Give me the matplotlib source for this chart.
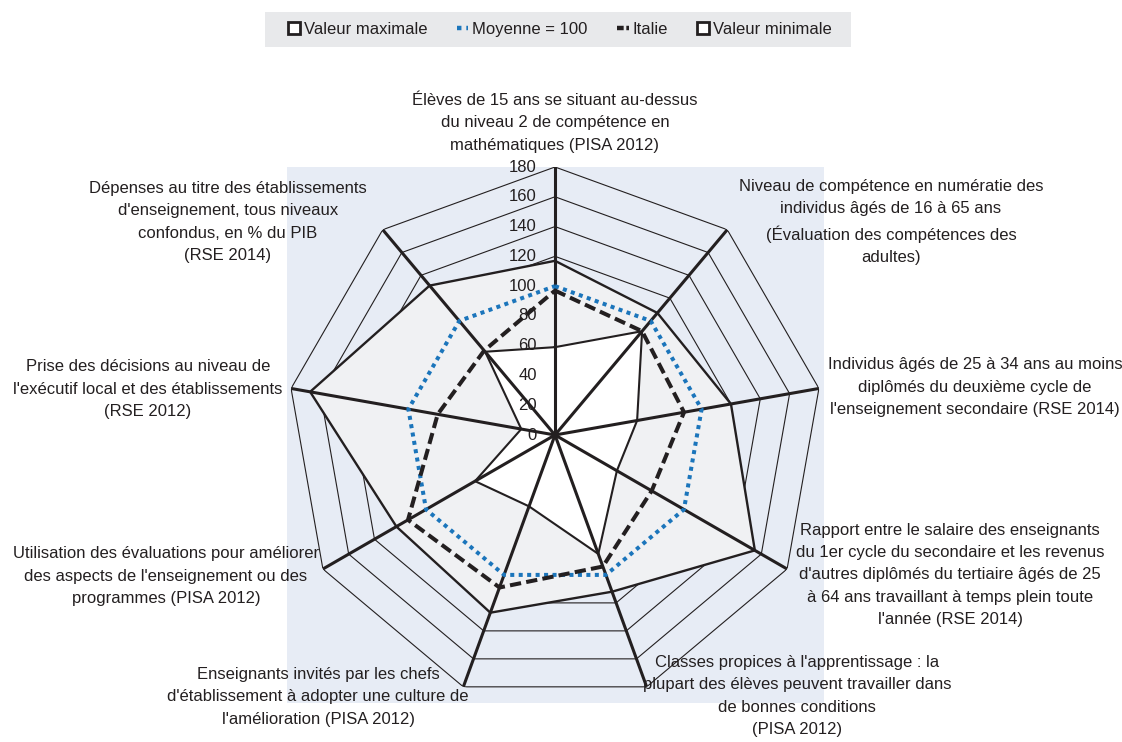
import numpy as np
import matplotlib
matplotlib.use("Agg")
import matplotlib.pyplot as plt
from matplotlib.patches import Patch, Rectangle
from matplotlib.lines import Line2D

plt.rcParams['font.family'] = ['Liberation Sans', 'DejaVu Sans']

# axes, clockwise from the top
categories = [
    "Élèves de 15 ans se situant au-dessus\ndu niveau 2 de compétence en\nmathématiques (PISA 2012)",
    "Niveau de compétence en numératie des\nindividus âgés de 16 à 65 ans\n(Évaluation des compétences des\nadultes)",
    "Individus âgés de 25 à 34 ans au moins\ndiplômés du deuxième cycle de\nl'enseignement secondaire (RSE 2014)",
    "Rapport entre le salaire des enseignants\ndu 1er cycle du secondaire et les revenus\nd'autres diplômés du tertiaire âgés de 25\nà 64 ans travaillant à temps plein toute\nl'année (RSE 2014)",
    "Classes propices à l'apprentissage : la\nplupart des élèves peuvent travailler dans\nde bonnes conditions\n(PISA 2012)",
    "Enseignants invités par les chefs\nd'établissement à adopter une culture de\nl'amélioration (PISA 2012)",
    "Utilisation des évaluations pour améliorer\ndes aspects de l'enseignement ou des\nprogrammes (PISA 2012)",
    "Prise des décisions au niveau de\nl'exécutif local et des établissements\n(RSE 2012)",
    "Dépenses au titre des établissements\nd'enseignement, tous niveaux\nconfondus, en % du PIB\n(RSE 2014)",
]
valeur_max = [117, 107, 120, 155, 112, 127, 123, 167, 131]
moyenne = [100, 100, 100, 100, 100, 100, 100, 100, 100]
italie = [97, 91, 88, 75, 94, 109, 114, 80, 74]
valeur_min = [59, 91, 56, 48, 85, 51, 62, 23, 73]
ticks = [0, 20, 40, 60, 80, 100, 120, 140, 160, 180]

# label centres in pixels (x, y from top)
label_pos = [(555, 123), (891, 222), (975, 387), (950, 575), (797, 696),
             (318, 697), (166, 576), (148, 389), (228, 222)]

W, H = 1122, 742
ink = '#231f20'
blue = '#1b75bb'

fig = plt.figure(figsize=(W / 100, H / 100), dpi=100)

# light blue panel behind the chart
fig.patches.append(Rectangle((287 / W, 1 - 703 / H), (824 - 287) / W, (703 - 167) / H,
                             transform=fig.transFigure, facecolor='#e7ecf5',
                             edgecolor='none', zorder=-1))
# grey legend band
fig.patches.append(Rectangle((265 / W, 1 - 47 / H), (851 - 265) / W, 35 / H,
                             transform=fig.transFigure, facecolor='#e8e9eb',
                             edgecolor='none', zorder=-1))

cx, cy, rad = 555, 435, 268
ax = fig.add_axes([(cx - rad) / W, (H - cy - rad) / H, 2 * rad / W, 2 * rad / H],
                  projection='polar')
ax.set_theta_zero_location('N')
ax.set_theta_direction(-1)
ax.set_ylim(0, 180)
ax.patch.set_alpha(0)
ax.grid(False)
ax.spines['polar'].set_visible(False)
ax.set_xticks([])
ax.set_yticks([])

n = len(categories)
theta = np.linspace(0, 2 * np.pi, n, endpoint=False)
tc = np.append(theta, theta[0])


def closed(v):
    return np.append(v, v[0])


# polygon grid
for t in ticks[1:]:
    ax.plot(tc, [t] * (n + 1), color=ink, lw=0.8, zorder=1)

ax.fill(tc, closed(valeur_max), facecolor='#f0f1f3', edgecolor='none', zorder=2)
ax.fill(tc, closed(valeur_min), facecolor='white', edgecolor='none', zorder=3)

# spokes
for th in theta:
    ax.plot([th, th], [0, 180], color=ink, lw=2.2, zorder=4, solid_capstyle='butt')

ax.plot(tc, closed(valeur_max), color=ink, lw=1.7, zorder=4)
ax.plot(tc, closed(valeur_min), color=ink, lw=1.5, zorder=4)
ax.plot(tc, closed(moyenne), color=blue, lw=2.9, ls=(0, (1, 1.1)), zorder=5)
ax.plot(tc, closed(italie), color=ink, lw=2.9, ls=(0, (2.8, 1.3)), zorder=6)

for t in ticks:
    ax.annotate(str(t), xy=(0, t), xytext=(-13, 0), textcoords='offset points',
                ha='right', va='center', fontsize=12, color=ink, zorder=7,
                annotation_clip=False)

for lab, (x, y) in zip(categories, label_pos):
    fig.text(x / W, 1 - y / H, lab, ha='center', va='center', fontsize=12,
             color=ink, linespacing=1.6)

handles = [
    Patch(facecolor='white', edgecolor=ink, linewidth=2),
    Line2D([], [], color=blue, lw=3.2, ls=(0, (1, 1.1))),
    Line2D([], [], color=ink, lw=3.2, ls=(0, (1.5, 0.6))),
    Patch(facecolor='white', edgecolor=ink, linewidth=2),
]
leg = fig.legend(handles, ["Valeur maximale", "Moyenne = 100", "Italie", "Valeur minimale"],
                 loc='center', bbox_to_anchor=(560 / W, 1 - 29.5 / H), ncol=4,
                 fontsize=12, frameon=False, handlelength=0.7, handleheight=0.7,
                 handletextpad=0.25, columnspacing=1.75, borderaxespad=0)
for txt in leg.get_texts():
    txt.set_color(ink)

fig.savefig('out.png', dpi=100)
